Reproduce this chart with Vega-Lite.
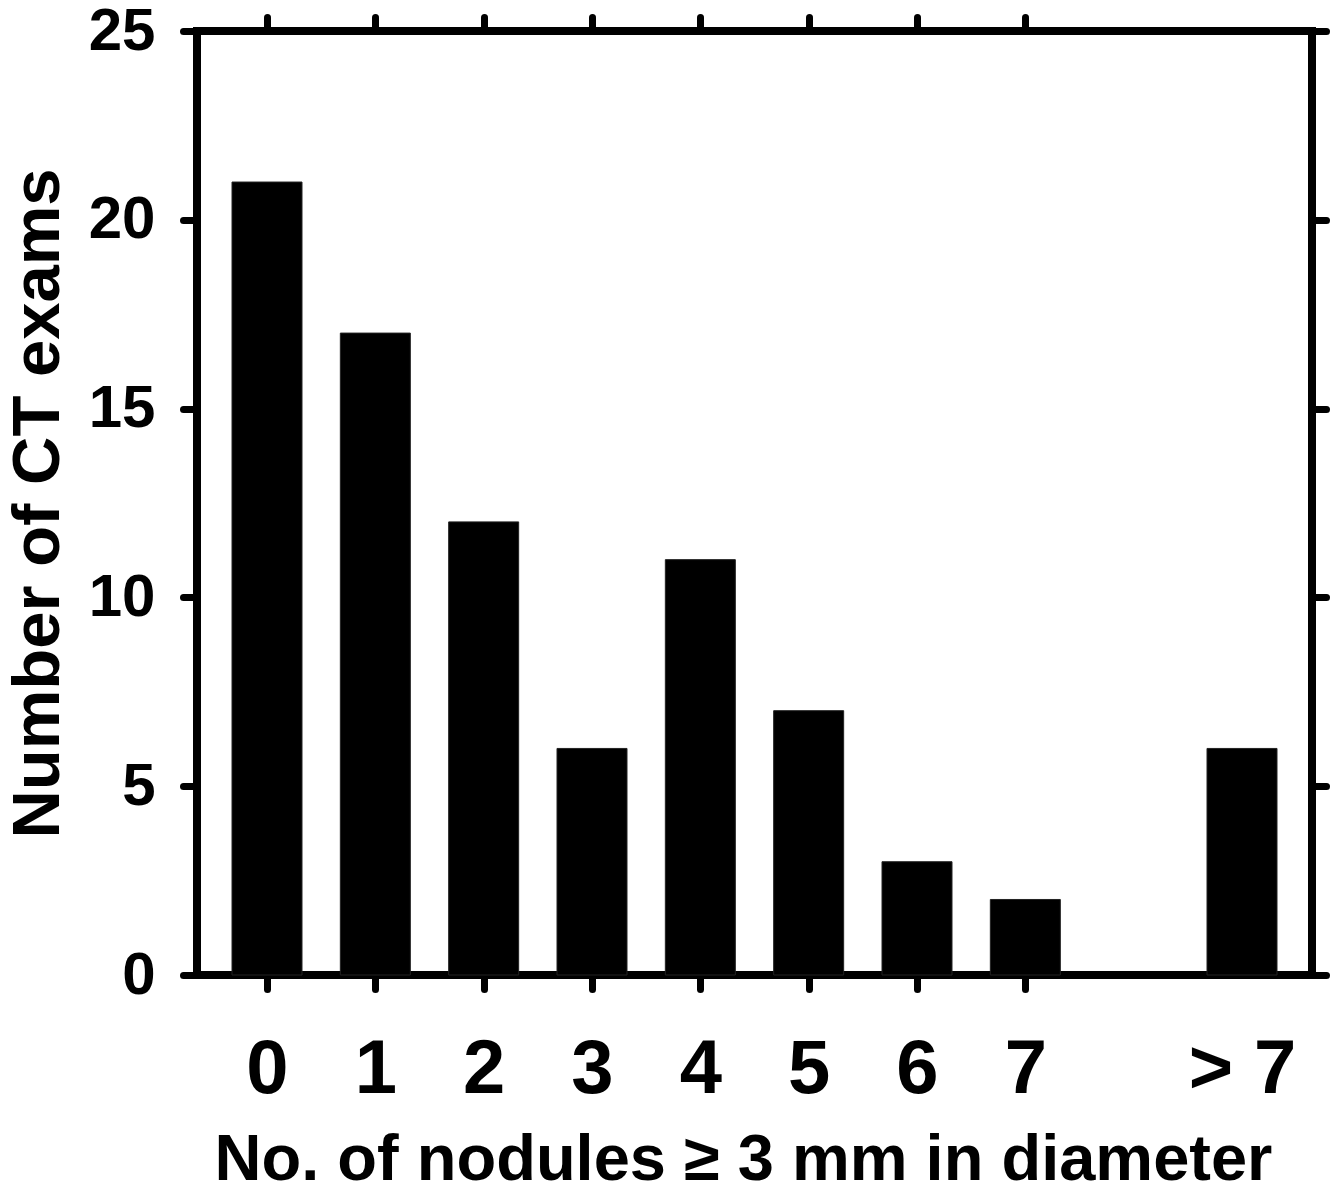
{
  "$schema": "https://vega.github.io/schema/vega-lite/v6.json",
  "width": 1115,
  "height": 944,
  "autosize": {"type": "none"},
  "padding": {"left": 197, "top": 31, "right": 28, "bottom": 213},
  "background": "white",
  "config": {
    "view": {"stroke": "black", "strokeWidth": 8},
    "font": "Liberation Sans",
    "axis": {
      "grid": false,
      "domain": false,
      "tickColor": "black",
      "tickWidth": 7,
      "tickSize": 14,
      "tickCap": "round",
      "labelColor": "black",
      "labelFont": "Liberation Sans",
      "labelFontWeight": "bold",
      "titleFont": "Liberation Sans",
      "titleFontWeight": "bold",
      "titleColor": "black"
    }
  },
  "data": {
    "values": [
      {"nodules": 0, "exams": 21},
      {"nodules": 1, "exams": 17},
      {"nodules": 2, "exams": 12},
      {"nodules": 3, "exams": 6},
      {"nodules": 4, "exams": 11},
      {"nodules": 5, "exams": 7},
      {"nodules": 6, "exams": 3},
      {"nodules": 7, "exams": 2},
      {"nodules": 9, "exams": 6}
    ]
  },
  "layer": [
    {
      "mark": {"type": "bar", "width": 70, "color": "black", "stroke": "#222", "strokeWidth": 1},
      "encoding": {
        "x": {
          "field": "nodules",
          "type": "quantitative",
          "scale": {"domain": [-0.6, 9.6], "nice": false, "zero": false},
          "axis": {
            "orient": "bottom",
            "values": [0, 1, 2, 3, 4, 5, 6, 7, 9],
            "tickOpacity": {"condition": {"test": "datum.value == 9", "value": 0}, "value": 1},
            "labelExpr": "datum.value == 9 ? '> 7' : datum.label",
            "labelFontSize": 76,
            "labelPadding": 43,
            "title": "No. of nodules ≥ 3 mm in diameter",
            "titleFontSize": 65,
            "titlePadding": 21,
            "titleX": 546
          }
        },
        "y": {
          "field": "exams",
          "type": "quantitative",
          "scale": {"domain": [0, 25], "nice": false},
          "axis": {
            "orient": "left",
            "values": [0, 5, 10, 15, 20, 25],
            "labelFontSize": 60,
            "labelPadding": 28,
            "title": "Number of CT exams",
            "titleFontSize": 67,
            "titlePadding": 16
          }
        }
      }
    },
    {
      "mark": {"type": "bar", "width": 70, "opacity": 0},
      "encoding": {
        "x": {
          "field": "nodules",
          "type": "quantitative",
          "axis": {"orient": "top", "values": [0, 1, 2, 3, 4, 5, 6, 7], "labels": false, "title": null}
        },
        "y": {
          "field": "exams",
          "type": "quantitative",
          "axis": {"orient": "right", "values": [0, 5, 10, 15, 20, 25], "labels": false, "title": null}
        }
      }
    }
  ],
  "resolve": {"axis": {"x": "independent", "y": "independent"}}
}
